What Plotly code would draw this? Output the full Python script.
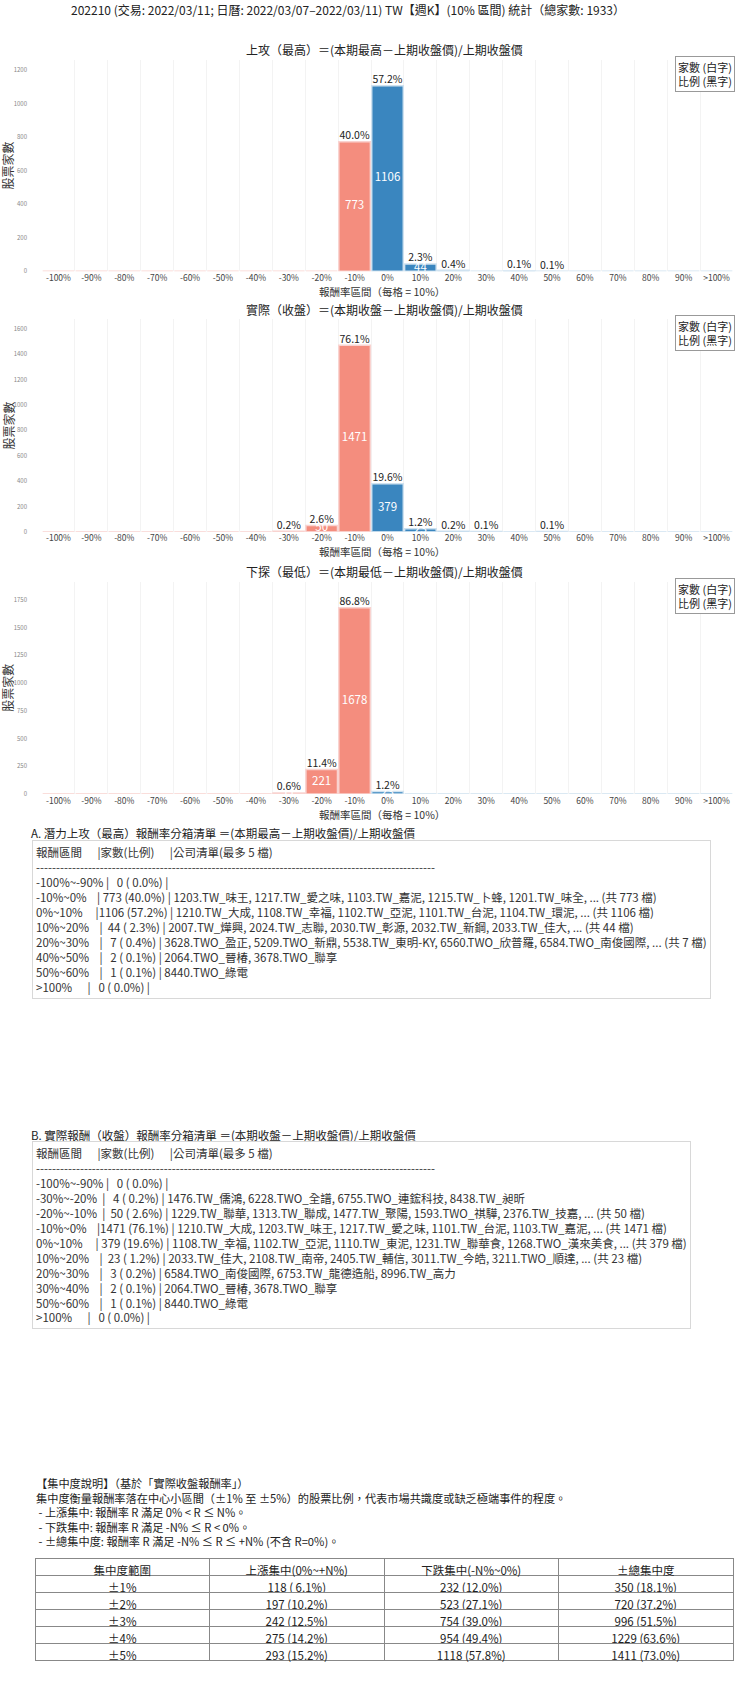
import plotly.graph_objects as go

W, H = 740, 1691
TOTAL = 1933
FONT = "Noto Sans CJK TC"

# bins (left edges of 10% buckets)
bins = ['-100%', '-90%', '-80%', '-70%', '-60%', '-50%', '-40%', '-30%', '-20%', '-10%',
        '0%', '10%', '20%', '30%', '40%', '50%', '60%', '70%', '80%', '90%', '>100%']
bin_ranges = ['-100%~-90%', '-90%~-80%', '-80%~-70%', '-70%~-60%', '-60%~-50%', '-50%~-40%',
              '-40%~-30%', '-30%~-20%', '-20%~-10%', '-10%~0%', '0%~10%', '10%~20%', '20%~30%',
              '30%~40%', '40%~50%', '50%~60%', '60%~70%', '70%~80%', '80%~90%', '90%~100%', '>100%']

high_counts = [0, 0, 0, 0, 0, 0, 0, 0, 0, 773, 1106, 44, 7, 0, 2, 1, 0, 0, 0, 0, 0]
close_counts = [0, 0, 0, 0, 0, 0, 0, 4, 50, 1471, 379, 23, 3, 2, 0, 1, 0, 0, 0, 0, 0]
low_counts = [0, 0, 0, 0, 0, 0, 0, 11, 221, 1678, 23, 0, 0, 0, 0, 0, 0, 0, 0, 0, 0]

chart_titles = ['上攻（最高）＝(本期最高－上期收盤價)/上期收盤價',
                '實際（收盤）＝(本期收盤－上期收盤價)/上期收盤價',
                '下探（最低）＝(本期最低－上期收盤價)/上期收盤價']

high_companies = {
    9: '1203.TW_味王, 1217.TW_愛之味, 1103.TW_嘉泥, 1215.TW_卜蜂, 1201.TW_味全, ... (共 773 檔)',
    10: '1210.TW_大成, 1108.TW_幸福, 1102.TW_亞泥, 1101.TW_台泥, 1104.TW_環泥, ... (共 1106 檔)',
    11: '2007.TW_燁興, 2024.TW_志聯, 2030.TW_彰源, 2032.TW_新鋼, 2033.TW_佳大, ... (共 44 檔)',
    12: '3628.TWO_盈正, 5209.TWO_新鼎, 5538.TW_東明-KY, 6560.TWO_欣普羅, 6584.TWO_南俊國際, ... (共 7 檔)',
    14: '2064.TWO_晉椿, 3678.TWO_聯享',
    15: '8440.TWO_綠電',
}
close_companies = {
    7: '1476.TW_儒鴻, 6228.TWO_全譜, 6755.TWO_連鋐科技, 8438.TW_昶昕',
    8: '1229.TW_聯華, 1313.TW_聯成, 1477.TW_聚陽, 1593.TWO_祺驊, 2376.TW_技嘉, ... (共 50 檔)',
    9: '1210.TW_大成, 1203.TW_味王, 1217.TW_愛之味, 1101.TW_台泥, 1103.TW_嘉泥, ... (共 1471 檔)',
    10: '1108.TW_幸福, 1102.TW_亞泥, 1110.TW_東泥, 1231.TW_聯華食, 1268.TWO_漢來美食, ... (共 379 檔)',
    11: '2033.TW_佳大, 2108.TW_南帝, 2405.TW_輔信, 3011.TW_今皓, 3211.TWO_順達, ... (共 23 檔)',
    12: '6584.TWO_南俊國際, 6753.TW_龍德造船, 8996.TW_高力',
    13: '2064.TWO_晉椿, 3678.TWO_聯享',
    15: '8440.TWO_綠電',
}

conc_ranges = ['±1%', '±2%', '±3%', '±4%', '±5%']
conc_up = [118, 197, 242, 275, 293]
conc_down = [232, 523, 754, 954, 1118]
conc_total = [350, 720, 996, 1229, 1411]

SALMON = '#F48D7E'
BLUE = '#3A86BF'
LIGHT_RED = '#F9D3D0'
LIGHT_BLUE = '#CFE2F0'


def py(p):
    return 1 - p / H


def px(p):
    return p / W


fig = go.Figure()

# pixel layout of the three histograms (top, bottom)
domains = [(60, 272), (320, 533), (583, 796)]
dticks = [200, 200, 250]
all_counts = [high_counts, close_counts, low_counts]
annotations = []

for i, counts in enumerate(all_counts):
    xa = 'x' if i == 0 else 'x%d' % (i + 1)
    ya = 'y' if i == 0 else 'y%d' % (i + 1)
    colors = [SALMON if k < 10 else BLUE for k in range(len(bins))]
    lines = [LIGHT_RED if k < 10 else LIGHT_BLUE for k in range(len(bins))]
    fig.add_trace(go.Bar(x=bins, y=counts, xaxis=xa, yaxis=ya,
                         marker=dict(color=colors, line=dict(color=lines, width=1.5)),
                         showlegend=False, hoverinfo='x+y'))
    nz = [k for k, c in enumerate(counts) if c > 0]
    big = [k for k in nz if counts[k] >= 10]
    # white count inside the bar, black share on top
    fig.add_trace(go.Scatter(x=[bins[k] for k in big], y=[counts[k] / 2 for k in big],
                             text=[str(counts[k]) for k in big], mode='text',
                             textposition='middle center', xaxis=xa, yaxis=ya,
                             textfont=dict(color='white', size=11.5, family=FONT),
                             showlegend=False, hoverinfo='skip'))
    fig.add_trace(go.Scatter(x=[bins[k] for k in nz], y=[counts[k] for k in nz],
                             text=['%.1f%%' % (counts[k] / TOTAL * 100) for k in nz], mode='text',
                             textposition='top center', xaxis=xa, yaxis=ya, cliponaxis=False,
                             textfont=dict(color='#222', size=10.5, family=FONT),
                             showlegend=False, hoverinfo='skip'))
    top, bot = domains[i]
    fig.layout['xaxis' if i == 0 else 'xaxis%d' % (i + 1)] = dict(
        domain=[px(42), px(733)], anchor=ya, type='category', tickson='boundaries',
        showgrid=True, gridcolor='#f3f3f3', zeroline=False, showline=False, tickangle=0,
        tickfont=dict(size=8.5, color='#444'), fixedrange=True)
    fig.layout['yaxis' if i == 0 else 'yaxis%d' % (i + 1)] = dict(
        domain=[py(bot), py(top)], anchor=xa, range=[0, max(counts) * 1.14], dtick=dticks[i],
        showgrid=False, zeroline=False, showline=False, ticklabelstandoff=14,
        tickfont=dict(size=6, color='#888'))
    # subplot title / axis titles / legend note
    annotations.append(dict(x=px(384), y=py(top - 10), yanchor='middle', text=chart_titles[i],
                            showarrow=False, xref='paper', yref='paper',
                            font=dict(size=12, color='#222')))
    annotations.append(dict(x=px(382), y=py(bot + 20), yanchor='middle',
                            text='報酬率區間（每格 = 10%）', showarrow=False,
                            xref='paper', yref='paper', font=dict(size=10.5, color='#333')))
    annotations.append(dict(x=px(8), y=py((top + bot) / 2), xanchor='center', yanchor='middle',
                            text='股票家數', textangle=-90,
                            showarrow=False, xref='paper', yref='paper',
                            font=dict(size=12, color='#333')))
    annotations.append(dict(x=px(735), y=py(top - 4), xanchor='right', yanchor='top',
                            text='家數 (白字)<br>比例 (黑字)', showarrow=False, align='left',
                            xref='paper', yref='paper', bordercolor='#999', borderwidth=1,
                            borderpad=2, bgcolor='white', font=dict(size=11, color='#222')))


def box_text(counts, companies):
    rows = ['報酬區間      |家數(比例)      |公司清單(最多 5 檔)', '-' * 100]
    for k, c in enumerate(counts):
        if c == 0 and k not in (0, len(counts) - 1):
            continue
        line = '%-11s|%4d (%4.1f%%) |' % (bin_ranges[k], c, c / TOTAL * 100)
        if k in companies:
            line += ' ' + companies[k]
        rows.append(line)
    return '<br>'.join(rows)


annotations.append(dict(x=px(29), y=py(835), xanchor='left', yanchor='middle', showarrow=False,
                        text='A. 潛力上攻（最高）報酬率分箱清單 ＝(本期最高－上期收盤價)/上期收盤價',
                        xref='paper', yref='paper', font=dict(size=11.5, color='#222')))
annotations.append(dict(x=px(32), y=py(842), xanchor='left', yanchor='top', showarrow=False,
                        text=box_text(high_counts, high_companies), align='left',
                        xref='paper', yref='paper', bordercolor='#d8d8d8', borderwidth=1,
                        borderpad=3, font=dict(size=11.5, color='#333')))
annotations.append(dict(x=px(29), y=py(1138), xanchor='left', yanchor='middle', showarrow=False,
                        text='B. 實際報酬（收盤）報酬率分箱清單 ＝(本期收盤－上期收盤價)/上期收盤價',
                        xref='paper', yref='paper', font=dict(size=11.5, color='#222')))
annotations.append(dict(x=px(32), y=py(1144), xanchor='left', yanchor='top', showarrow=False,
                        text=box_text(close_counts, close_companies), align='left',
                        xref='paper', yref='paper', bordercolor='#d8d8d8', borderwidth=1,
                        borderpad=3, font=dict(size=11.5, color='#333')))

conc_note = ['【集中度說明】（基於「實際收盤報酬率」）',
             '集中度衡量報酬率落在中心小區間（±1% 至 ±5%）的股票比例，代表市場共識度或缺乏極端事件的程度。',
             ' - 上漲集中: 報酬率 R 滿足 0% < R ≤ N%。',
             ' - 下跌集中: 報酬率 R 滿足 -N% ≤ R < 0%。',
             ' - ±總集中度: 報酬率 R 滿足 -N% ≤ R ≤ +N% (不含 R=0%)。']
annotations.append(dict(x=px(34), y=py(1476), xanchor='left', yanchor='top', showarrow=False,
                        text='<br>'.join(conc_note), align='left', xref='paper', yref='paper',
                        font=dict(size=11.2, color='#222')))

annotations.append(dict(x=px(348), y=py(10), yanchor='middle',
                        text='202210 (交易: 2022/03/11; 日曆: 2022/03/07–2022/03/11) TW【週K】(10% 區間) 統計（總家數: 1933）',
                        showarrow=False, xref='paper', yref='paper', font=dict(size=12, color='#222')))


def fmt(v):
    return '%d (%4.1f%%)' % (v, v / TOTAL * 100)


fig.add_trace(go.Table(
    domain=dict(x=[px(35), px(733)], y=[py(1680), py(1562)]),
    header=dict(values=['集中度範圍', '上漲集中(0%~+N%)', '下跌集中(-N%~0%)', '±總集中度'],
                fill_color='white', line_color='#888', height=17,
                font=dict(size=11.5, color='#222', family=FONT), align='center'),
    cells=dict(values=[conc_ranges, [fmt(v) for v in conc_up], [fmt(v) for v in conc_down],
                       [fmt(v) for v in conc_total]],
               fill_color='white', line_color='#888', height=17,
               font=dict(size=11.5, color='#222', family=FONT), align='center')))

fig.update_layout(
    width=W, height=H,
    margin=dict(l=0, r=0, t=0, b=0),
    paper_bgcolor='white', plot_bgcolor='white',
    font=dict(family=FONT, color='#333'),
    bargap=0.04,
    annotations=annotations,
    showlegend=False,
)

# drop the default 8px page margin so the figure sits at the window origin
fig.write_html("out.html", config={'displayModeBar': False},
               post_script="document.body.style.margin='0';")
